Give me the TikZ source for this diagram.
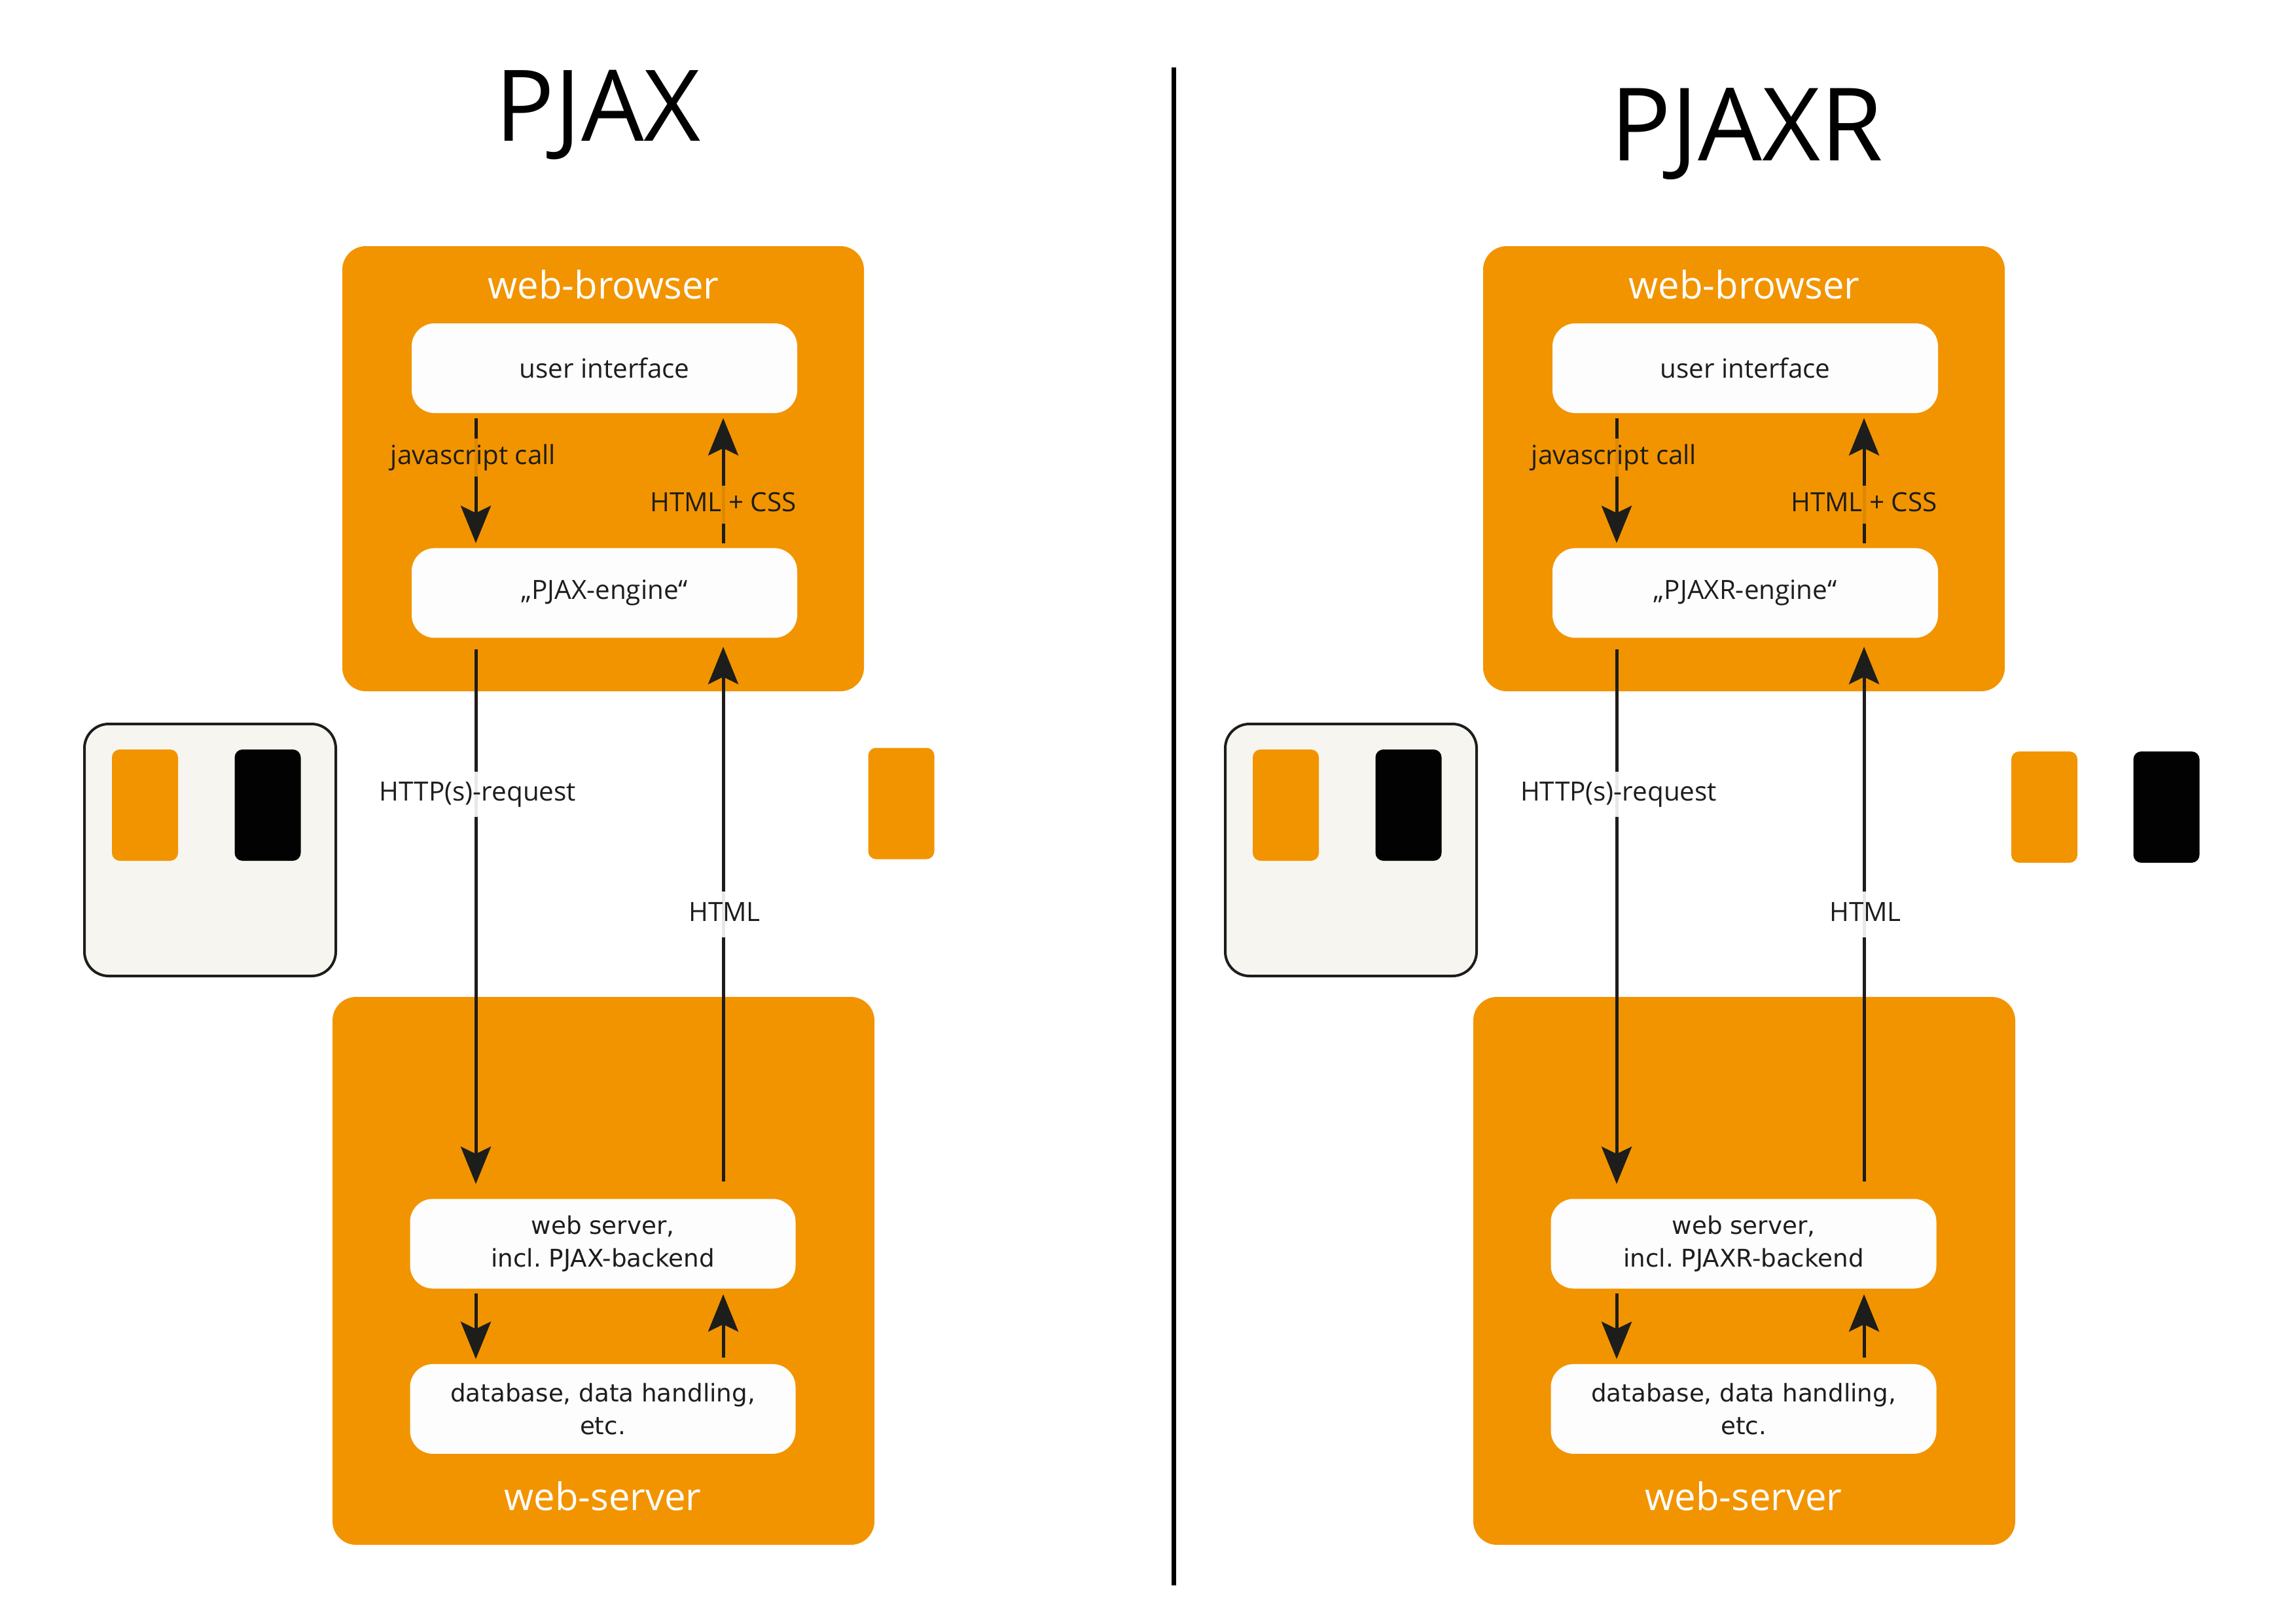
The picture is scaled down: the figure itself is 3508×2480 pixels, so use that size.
\documentclass[tikz,border=0pt]{standalone}
\usepackage{fontspec}
\setmainfont{Open Sans}
\newfontfamily\serverfont{DejaVu Sans}
\usetikzlibrary{arrows.meta, positioning}
\definecolor{corange}{HTML}{F29400}
\definecolor{cwhite}{HTML}{FDFDFD}
\definecolor{cdark}{HTML}{1D1D1B}
\definecolor{ccream}{HTML}{F6F5F0}
\definecolor{cblack}{HTML}{020202}
\tikzset{
  zone/.style={fill=corange, rounded corners=3.6mm, inner sep=0pt},
  zonelabel/.style={text=white, font=\fontsize{16.5}{20}\selectfont, anchor=base, inner sep=0pt},
  part/.style={fill=cwhite, rounded corners=3.5mm, minimum width=58.9mm, minimum height=13.7mm, align=center, text=cdark, font=\fontsize{11.5}{14}\selectfont, inner sep=0pt},
  srvpart/.style={part, font=\serverfont\fontsize{10.6}{14.2}\selectfont},
  arrow/.style={-{Stealth[length=5.7mm, width=4.6mm, inset=1.1mm]}, draw=cdark, line width=0.5mm, shorten <=0.7mm, shorten >=0.7mm},
  tag/.style={fill=#1, fill opacity=0.9, text opacity=1, text=cdark, font=\fontsize{11.5}{14}\selectfont, text height=8.5pt, text depth=2.8pt, inner xsep=1pt, inner ysep=2.6pt},
  tag/.default=corange,
  device/.style={fill=ccream, draw=cdark, line width=0.4mm, rounded corners=3.7mm, minimum width=38.4mm, minimum height=38.5mm},
  chip/.style={fill=#1, rounded corners=1.2mm, minimum width=10.1mm, minimum height=17mm, inner sep=0pt},
  title/.style={anchor=base, text=black, inner sep=0pt},
}

\begin{document}
\begin{tikzpicture}[x=0.1mm, y=-0.1mm]
  \useasboundingbox (0,0) rectangle (3508,2480);
  \foreach \p/\dx/\tx/\ty/\ts in {PJAX/0/914/215/43, PJAXR/1743/926/245/44} {
    \begin{scope}[shift={(\dx,0)}]
      \coordinate (L\p) at (727,0);
      \coordinate (R\p) at (1105,0);
      \node[title, font=\fontsize{\ts}{\ts}\selectfont] (title\p) at (\tx,\ty) {\p};
      % browser side
      \node[zone, minimum width=79.7mm, minimum height=68mm] (browser\p) at (921.5,716) {};
      \node[zonelabel] (browserlabel\p) at (922,456) {web-browser};
      \node[part] (ui\p) at (923.5,562.5) {user interface};
      \node[part, below=20.5mm of ui\p] (engine\p) {„\p-engine“};
      % server side
      \node[zone, minimum width=82.8mm, minimum height=83.7mm] (server\p) at (922,1941.5) {};
      \node[srvpart] (ws\p) at (921,1900) {web server,\\incl.\ \p-backend};
      \node[srvpart, below=11.4mm of ws\p] (db\p) {database, data handling,\\etc.};
      \node[zonelabel] (serverlabel\p) at (921,2307) {web-server};
      % client device
      \node[device] (device\p) at (321,1298.5) {};
      \node[chip=corange] (chipa\p) at (221.5,1230) {};
      \node[chip=cblack] (chipb\p) at (409,1230) {};
      % requests and answers
      \draw[arrow] (ui\p.south -| L\p) -- (engine\p.north -| L\p);
      \draw[arrow] (engine\p.north -| R\p) -- (ui\p.south -| R\p);
      \draw[arrow, shorten <=1.7mm, shorten >=2.2mm] (engine\p.south -| L\p) -- (ws\p.north -| L\p);
      \draw[arrow, shorten <=2.6mm, shorten >=1.3mm] (ws\p.north -| R\p) -- (engine\p.south -| R\p);
      \draw[arrow] (ws\p.south -| L\p) -- (db\p.north -| L\p);
      \draw[arrow, shorten <=0.9mm, shorten >=0.8mm] (db\p.north -| R\p) -- (ws\p.south -| R\p);
      \node[tag] (js\p) at (723,699) {javascript call};
      \node[tag] (css\p) at (1105,771) {HTML + CSS};
      \node[tag=white, inner ysep=4.3pt] (req\p) at (730,1213.5) {HTTP(s)-request};
      \node[tag=white, inner ysep=4.3pt] (html\p) at (1107,1397) {HTML};
    \end{scope}
  }
  \node[chip=corange] (sidea) at (1377,1227.5) {};
  \node[chip=corange] (sideb) at (3123.5,1233) {};
  \node[chip=cblack] (sidec) at (3310,1233) {};
  \draw[line width=0.7mm] (1793.5,102.7) -- (1793.5,2422);
\end{tikzpicture}
\end{document}
